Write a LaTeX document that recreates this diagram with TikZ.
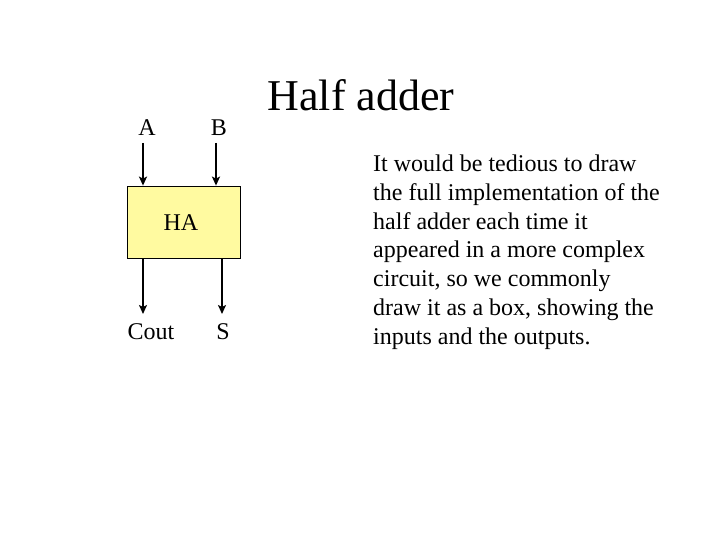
\documentclass[tikz,border=0pt]{standalone}
\usepackage{fontspec}
\setmainfont{Liberation Serif}
\usetikzlibrary{arrows.meta}
\definecolor{boxfill}{RGB}{255,250,160}
\begin{document}
\begin{tikzpicture}[x=1pt,y=-1pt,
  lbl/.style={font=\fontsize{24}{28.8}\selectfont, anchor=base, inner sep=0pt},
  sig/.style={line width=2.2pt, -{Stealth[length=9pt,width=8pt,inset=2pt]}}]
\useasboundingbox (0,0) rectangle (720,540);
\node[draw=black, line width=0.8pt, fill=boxfill, minimum width=113pt, minimum height=72pt, inner sep=0pt] (ha) at (183.5,222) {};
\node[lbl] at (181,230) {HA};
\node[lbl] (a) at (147,136) {A};
\node[lbl] (b) at (219,136) {B};
\node[lbl] (cout) at (151,339) {Cout};
\node[lbl] (s) at (223,339) {S};
\coordinate (a1) at (143,143);
\coordinate (b1) at (216,143);
\coordinate (c1) at (143,314);
\coordinate (s1) at (222,314);
\draw[sig] (a1) -- (a1 |- ha.north);
\draw[sig] (b1) -- (b1 |- ha.north);
\draw[sig] (c1 |- ha.south) -- (c1);
\draw[sig] (s1 |- ha.south) -- (s1);
\node[font=\fontsize{44}{50}\selectfont, anchor=base, inner sep=0pt] (title) at (361,111) {Half adder};
\node[font=\fontsize{24}{28.7}\selectfont, anchor=base west, inner sep=0pt, align=left] (txt) at (373,344) {It would be tedious to draw\\the full implementation of the\\half adder each time it\\appeared in a more complex\\circuit, so we commonly\\draw it as a box, showing the\\inputs and the outputs.};
\end{tikzpicture}
\end{document}
